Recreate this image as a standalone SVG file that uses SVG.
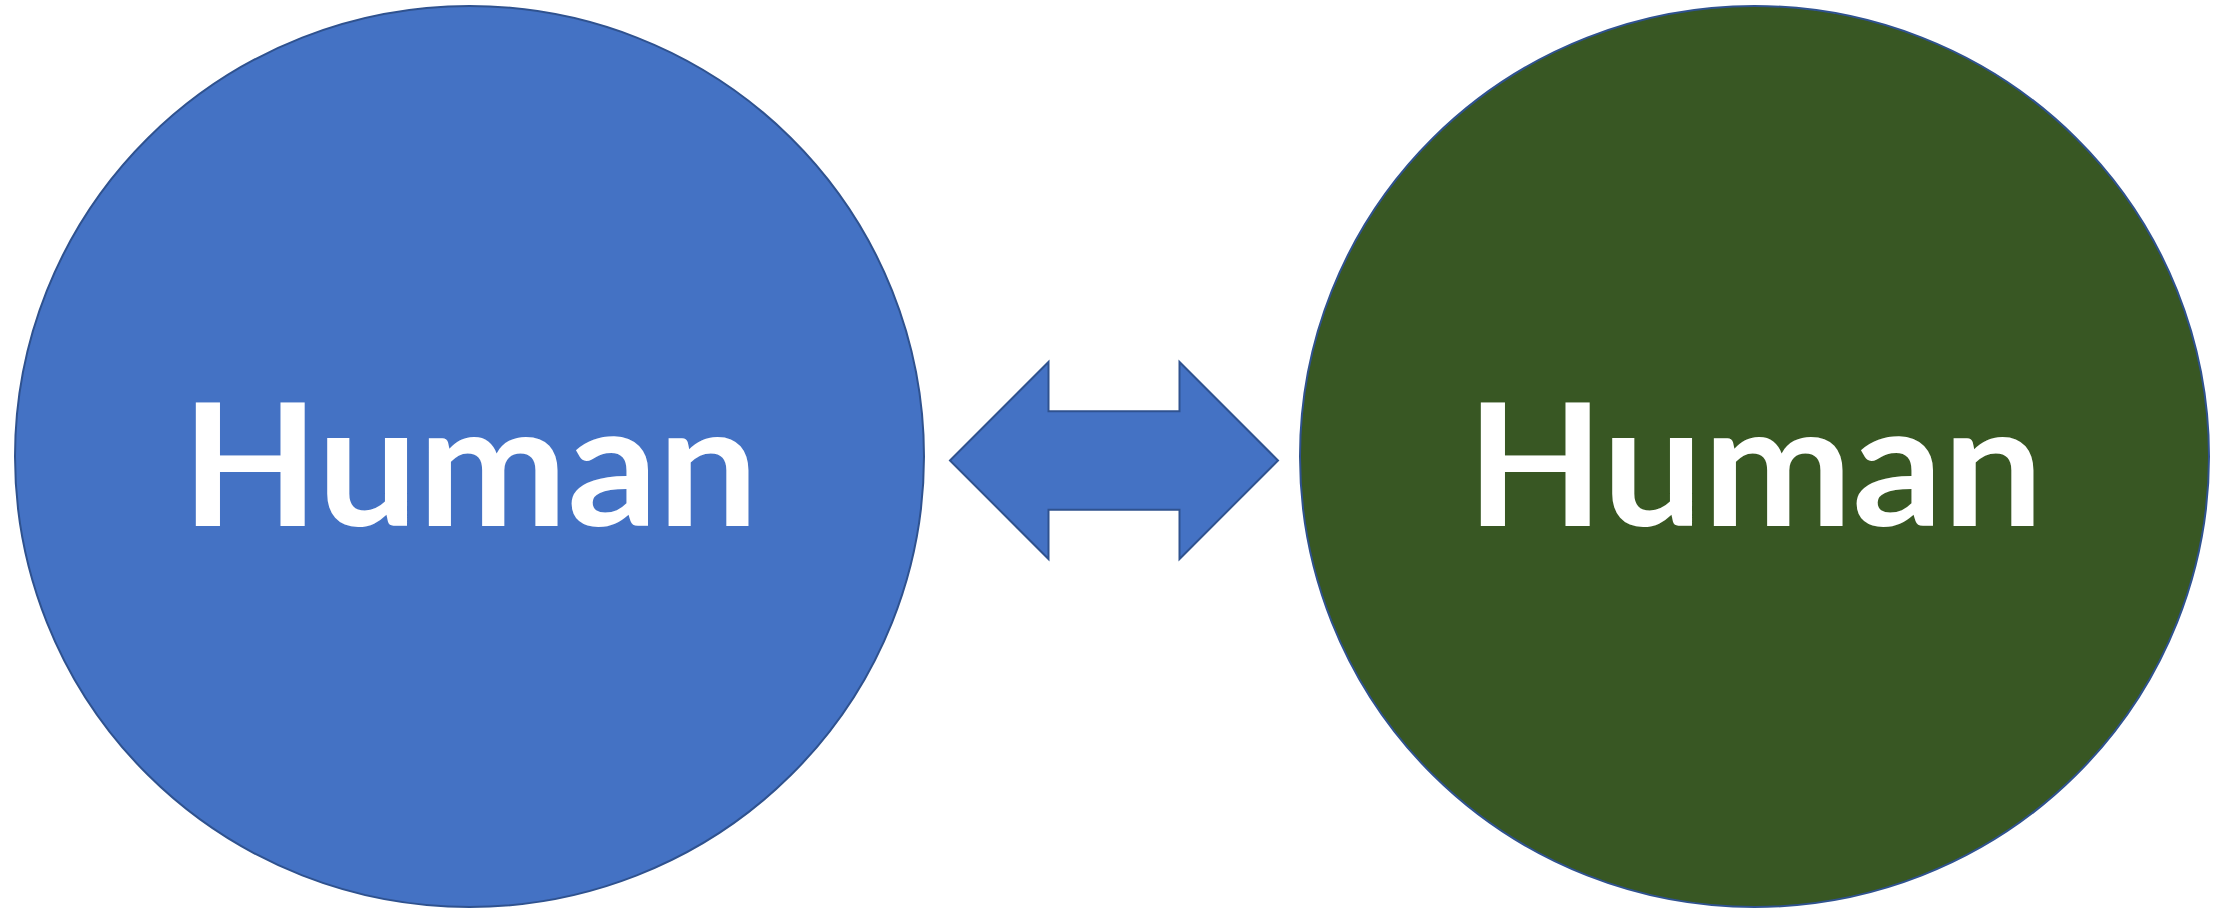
<svg xmlns="http://www.w3.org/2000/svg" width="2224" height="910" viewBox="0 0 2224 910">
  <style>
    .shape { stroke: #2F528F; stroke-width: 2; }
    .blue { fill: #4472C4; }
    .green { fill: #385723; }
    .label { font-family: Lato, "Liberation Sans", sans-serif; font-weight: 700; font-size: 170px; fill: #FFFFFF; text-anchor: middle; }
  </style>
  <rect x="0" y="0" width="2224" height="910" fill="#FFFFFF"/>

  <!-- left node -->
  <g id="human-left">
    <ellipse class="shape blue" cx="469.5" cy="456.5" rx="454.5" ry="450.5"/>
    <text class="label" x="470" y="526" textLength="577" lengthAdjust="spacingAndGlyphs">Human</text>
  </g>

  <!-- right node -->
  <g id="human-right">
    <ellipse class="shape green" cx="1754.5" cy="456.5" rx="454.5" ry="450.5"/>
    <text class="label" x="1755" y="526" textLength="577" lengthAdjust="spacingAndGlyphs">Human</text>
  </g>

  <!-- double-headed block arrow between the two nodes -->
  <g id="connectors">
    <path class="shape blue" d="M950,460.5 L1048.5,362 L1048.5,411.25 L1179.5,411.25 L1179.5,362 L1278,460.5 L1179.5,559 L1179.5,509.75 L1048.5,509.75 L1048.5,559 Z"/>
  </g>
</svg>
